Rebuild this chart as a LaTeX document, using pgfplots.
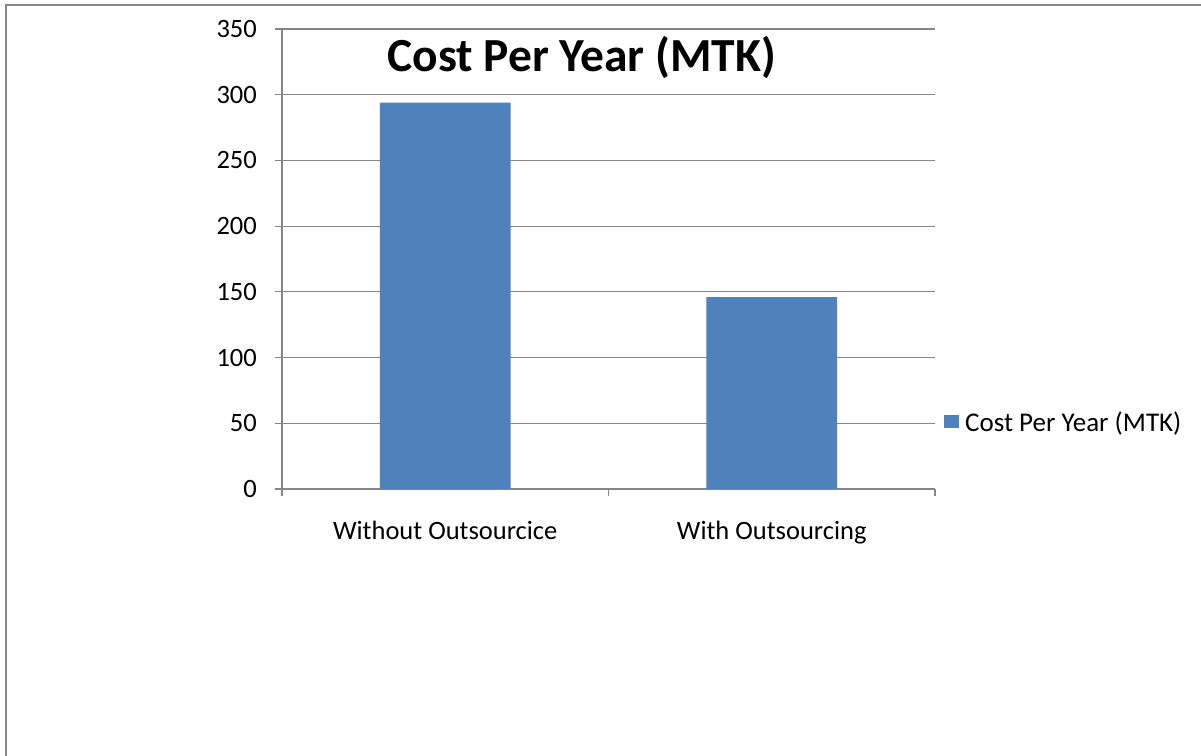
\documentclass[border=0pt]{standalone}
\usepackage{fontspec}
\setmainfont{Carlito}
\usepackage{pgfplots}
\pgfplotsset{compat=1.18}

\definecolor{barblue}{HTML}{4F81BD}
\definecolor{axisgray}{HTML}{868686}
\definecolor{framegray}{HTML}{888888}
\newcommand\lblfont{\fontsize{26.5bp}{31bp}\selectfont}
\newcommand\legfont{\fontsize{27bp}{31bp}\selectfont}
\newcommand\ttlfont{\fontsize{47.5bp}{54bp}\selectfont\bfseries}

\begin{document}
\begin{tikzpicture}
  \useasboundingbox (0,0) rectangle (1201bp,756bp);
  % chart frame (top and left edges)
  \draw[framegray, line width=2.5bp] (6bp,0bp) -- (6bp,751bp) -- (1201bp,751bp);
  \begin{axis}[
    at={(282bp,267bp)}, anchor=south west,
    scale only axis, width=653bp, height=460bp,
    xmin=0.5, xmax=2.5, ymin=0, ymax=350,
    ytick={0,50,...,350},
    xtick={1,2},
    xticklabels={Without Outsourcice, With Outsourcing},
    minor xtick={0.5,1.5,2.5},
    major x tick style={draw=none},
    tick align=outside,
    major tick length=7bp, minor tick length=7bp,
    tick style={axisgray, line width=1.2bp},
    axis x line*=bottom, axis y line*=left,
    axis line style={axisgray, line width=1.2bp},
    ymajorgrids, grid style={axisgray, line width=1.2bp},
    /pgf/number format/assume math mode=true,
    tick label style={font=\lblfont},
    yticklabel style={anchor=east, inner sep=0pt, xshift=-18bp},
    xticklabel style={anchor=north, inner sep=0pt, yshift=-25bp},
    ybar, bar width=0.4,
    title={Cost Per Year (MTK)},
    title style={at={(axis description cs:0.459,0.926)}, anchor=center,
      font=\ttlfont, inner sep=0pt},
    legend style={at={(axis description cs:1.0138,0.1457)}, anchor=west,
      draw=none, fill=none, font=\legfont, inner sep=0pt,
      nodes={inner sep=2bp},
      /tikz/every odd column/.append style={column sep=4bp}},
    legend image code/.code={\fill[barblue] (0bp,-6.5bp) rectangle (15bp,6.5bp);},
  ]
    \addplot[fill=barblue, draw=none] coordinates {(1,294) (2,146)};
    \addlegendentry{Cost Per Year (MTK)}
  \end{axis}
\end{tikzpicture}
\end{document}
